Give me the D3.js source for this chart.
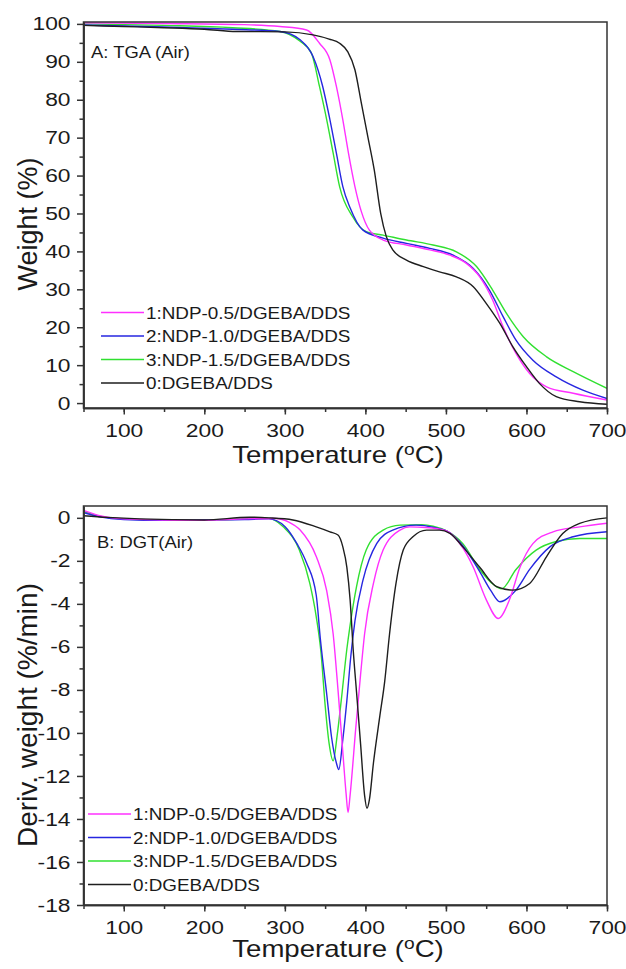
<!DOCTYPE html>
<html>
<head>
<meta charset="utf-8">
<script src="https://cdn.jsdelivr.net/npm/d3@7"></script>
<style>
  body { margin: 0; background: #fff; }
  svg text { font-family: "Liberation Sans", Arial, sans-serif; fill: #1a1a1a; }
</style>
</head>
<body>
<div id="graphicContainer"></div>
<script>
// legend order: 1, 2, 3, 0
var seriesNames = ["1:NDP-0.5/DGEBA/DDS", "2:NDP-1.0/DGEBA/DDS", "3:NDP-1.5/DGEBA/DDS", "0:DGEBA/DDS"]
var seriesColours = ["#ff30ff", "#2626e0", "#30e030", "#1e1e1e"]

var xTicks = [100, 200, 300, 400, 500, 600, 700]
var tgaTicks = [0, 10, 20, 30, 40, 50, 60, 70, 80, 90, 100]
var dtgTicks = [-18, -16, -14, -12, -10, -8, -6, -4, -2, 0]

// A: TGA (Air)  [temperature, weight %]
var tgaPink = [[50,100.3],[150,100.1],[250,99.8],[294,99.3],[327,98.4],[343,94.9],[356,90.5],[364,83.5],[372,74.7],[379,65.9],[387,57.1],[395,50.5],[405,45.6],[422,43],[451,41.7],[480,40.4],[505,39],[525,36.9],[542,33.3],[558,27.2],[571,20.1],[587,13.1],[604,7.8],[625,4.3],[658,2.6],[700,0.8]]
var tgaBlue = [[50,99.7],[150,99.2],[235,98.6],[294,98.0],[319,95.8],[335,91.4],[347,83.5],[356,74.7],[364,65.9],[372,57.1],[381,51.5],[397,45.6],[422,43.5],[451,42.1],[480,40.8],[509,39],[534,35.5],[554,29.8],[571,22.8],[587,16.6],[608,11.3],[637,6.9],[670,3.4],[700,1.2]]
var tgaGreen = [[50,100],[150,99.6],[235,99.0],[294,98.0],[319,95.4],[333,92.3],[343,83.5],[352,74.7],[360,65.9],[368,57.1],[384,49.2],[401,45.2],[422,44.3],[451,43],[484,41.7],[513,39.9],[538,36],[558,29.8],[575,23.7],[596,17.5],[625,12.2],[658,8.3],[700,3.9]]
var tgaBlack = [[50,99.6],[100,99.3],[150,99.0],[200,98.6],[240,98.0],[300,97.9],[335,97.1],[355,96.0],[368,94.9],[378,92.7],[387,87.9],[395,79.1],[403,70.3],[411,61.5],[419,50],[426,43.9],[434,40.4],[451,37.7],[472,36],[492,34.6],[513,33.3],[534,30.7],[550,26.3],[567,21],[583,14.9],[600,9.6],[616,5.2],[637,1.7],[666,0.35],[700,-0.3]]

// B: DGT (Air)  [temperature, deriv. weight %/min]
var dtgPink = [[50,0.35],[70,0.1],[100,-0.05],[150,-0.1],[200,-0.12],[250,-0.05],[289,-0.03],[305,-0.2],[319,-0.57],[339,-1.8],[352,-3.4],[360,-5.4],[366,-8],[372,-10.9],[376,-12.8],[378.5,-13.7],[381,-12.9],[388,-9.8],[394,-7.3],[399,-5.4],[410,-3.05],[422,-1.5],[443,-0.57],[455,-0.42],[475,-0.45],[500,-0.6],[521,-1.4],[534,-2.3],[550,-3.8],[565,-4.68],[579,-3.8],[592,-2.3],[608,-1.2],[633,-0.65],[666,-0.42],[700,-0.25]]
var dtgBlue = [[50,0.25],[70,0.05],[100,-0.08],[150,-0.12],[200,-0.1],[250,-0.08],[280,-0.05],[300,-0.4],[315,-1.2],[327,-2.1],[339,-3.6],[344,-5.6],[352,-8.2],[358,-10.2],[364,-11.4],[367,-11.7],[372,-10.3],[377,-8.5],[382,-6.4],[387,-4.8],[397,-2.9],[414,-1.2],[434,-0.57],[463,-0.34],[485,-0.45],[505,-0.7],[521,-1.3],[542,-2.5],[556,-3.4],[567,-3.9],[587,-3.36],[604,-2.4],[629,-1.35],[658,-0.88],[700,-0.65]]
var dtgGreen = [[50,0.3],[70,0.08],[100,-0.05],[150,-0.1],[200,-0.12],[250,-0.05],[277,0],[298,-0.42],[318,-1.5],[331,-3.05],[339,-4.6],[345,-6.3],[350,-8.7],[355,-10.5],[360,-11.3],[365,-10.1],[370,-8.5],[377,-6.1],[381,-5.0],[389,-3.2],[401,-1.5],[422,-0.57],[443,-0.34],[470,-0.32],[484,-0.39],[500,-0.6],[521,-1.2],[542,-2.4],[559,-3.1],[569,-3.3],[587,-2.4],[612,-1.5],[637,-1.1],[666,-0.96],[700,-0.96]]
var dtgBlack = [[50,0.1],[80,0.02],[120,-0.05],[200,-0.1],[256,0.03],[280,0],[310,-0.1],[339,-0.42],[356,-0.65],[366,-0.8],[372,-1.35],[377,-2.3],[381,-3.8],[385,-6.2],[389,-8.1],[394,-10.5],[399,-12.9],[402,-13.5],[405,-13.1],[410,-11.4],[418,-9.2],[424,-7.6],[430,-5.4],[438,-3.05],[447,-1.5],[459,-0.88],[476,-0.57],[492,-0.57],[505,-0.72],[521,-1.35],[542,-2.3],[563,-3.2],[583,-3.36],[604,-3.05],[625,-1.8],[645,-0.73],[666,-0.26],[700,0.0]]

var width = 626, height = 969
var sx = 1.2   // the picture's text is a bit wide

var svg = d3.select("#graphicContainer").append("svg")
    .attr("width", width)
    .attr("height", height)

function makePanel(p) {
    var x = d3.scaleLinear().domain([50, 700]).range([83.5, 607])
    var y = d3.scaleLinear().domain(p.yDomain).range([p.bottom, p.top])

    var g = svg.append("g")

    g.append("clipPath").attr("id", p.id + "clip")
        .append("rect")
        .attr("x", x.range()[0]).attr("y", p.top)
        .attr("width", x.range()[1] - x.range()[0])
        .attr("height", p.bottom - p.top)

    var line = d3.line()
        .x(d => x(d[0]))
        .y(d => y(d[1]))
        .curve(d3.curveMonotoneX)

    // draw so that black ends up on top
    var order = [2, 1, 0, 3]
    order.forEach(function(i) {
        g.append("path")
            .datum(p.series[i])
            .attr("clip-path", "url(#" + p.id + "clip)")
            .attr("fill", "none")
            .attr("stroke", seriesColours[i])
            .attr("stroke-width", 1.4)
            .attr("stroke-linejoin", "round")
            .attr("d", line)
    })

    // frame
    g.append("rect")
        .attr("x", x.range()[0]).attr("y", p.top)
        .attr("width", x.range()[1] - x.range()[0])
        .attr("height", p.bottom - p.top)
        .attr("fill", "none")
        .attr("stroke", "#333")
        .attr("stroke-width", 1.5)

    // minor ticks
    g.append("g")
        .attr("transform", "translate(0," + p.bottom + ")")
        .call(d3.axisBottom(x).tickValues(d3.range(50, 701, 50)).tickSize(4).tickFormat("").tickSizeOuter(0))
    g.append("g")
        .attr("transform", "translate(" + x.range()[0] + ",0)")
        .call(d3.axisLeft(y).tickValues(p.yMinor).tickSize(4).tickFormat("").tickSizeOuter(0))

    // major ticks + labels
    var xa = g.append("g")
        .attr("transform", "translate(0," + p.bottom + ")")
        .call(d3.axisBottom(x).tickValues(xTicks).tickSize(6.5).tickSizeOuter(0))
    xa.selectAll("text")
        .attr("y", p.xLabelY)
        .attr("transform", "scale(" + sx + ",1)")
        .style("font-size", "19px")

    var ya = g.append("g")
        .attr("transform", "translate(" + x.range()[0] + ",0)")
        .call(d3.axisLeft(y).tickValues(p.yTicks).tickSize(6.5).tickSizeOuter(0).tickFormat(d => String(d)))
    ya.selectAll("text")
        .attr("x", -13 / sx)
        .attr("transform", "scale(" + sx + ",1)")
        .style("font-size", "19px")

    g.selectAll(".domain, .tick line").attr("stroke", "#333").attr("stroke-width", 1.5)
    g.selectAll(".tick text").attr("fill", "#1a1a1a").style("font-family", "'Liberation Sans', Arial, sans-serif")

    // x title with superscript o
    var xt = g.append("text")
        .attr("transform", "translate(338," + p.xTitleY + ") scale(" + sx + ",1)")
        .attr("text-anchor", "middle")
        .style("font-size", "23px")
    xt.append("tspan").text("Temperature (")
    xt.append("tspan").text("o").style("font-size", "16px").attr("dy", -8)
    xt.append("tspan").text("C)").attr("dy", 8)

    // y title
    g.append("text")
        .attr("transform", "translate(37," + p.yTitleY + ") rotate(-90)")
        .attr("text-anchor", "middle")
        .style("font-size", p.yTitleSize)
        .text(p.yTitle)

    // panel label
    g.append("text")
        .attr("transform", "translate(" + p.labelX + "," + p.labelY + ") scale(1.15,1)")
        .style("font-size", "16px")
        .text(p.label)

    // legend
    seriesNames.forEach(function(name, i) {
        var ly = p.legendY + i * 23.5
        g.append("line")
            .attr("x1", p.legendX).attr("x2", p.legendX + 43)
            .attr("y1", ly).attr("y2", ly)
            .attr("stroke", seriesColours[i])
            .attr("stroke-width", 1.4)
        g.append("text")
            .attr("transform", "translate(" + (p.legendX + 45) + "," + (ly + 6) + ") scale(1.18,1)")
            .style("font-size", "16px")
            .text(name)
    })
}

makePanel({
    id: "tga",
    top: 22, bottom: 408,
    yDomain: [-1.3, 100.5],
    yTicks: tgaTicks,
    yMinor: d3.range(5, 100, 10),
    series: [tgaPink, tgaBlue, tgaGreen, tgaBlack],
    xLabelY: 16, xTitleY: 463,
    yTitle: "Weight (%)", yTitleY: 224, yTitleSize: "27px",
    label: "A: TGA (Air)", labelX: 91, labelY: 58,
    legendX: 101, legendY: 312.5
})

makePanel({
    id: "dtg",
    top: 506, bottom: 905,
    yDomain: [-18, 0.55],
    yTicks: dtgTicks,
    yMinor: d3.range(-17, 0, 2),
    series: [dtgPink, dtgBlue, dtgGreen, dtgBlack],
    xLabelY: 16, xTitleY: 957,
    yTitle: "Deriv. weight (%/min)", yTitleY: 715, yTitleSize: "28px",
    label: "B: DGT(Air)", labelX: 97, labelY: 548,
    legendX: 88, legendY: 814
})
</script>
</body>
</html>
